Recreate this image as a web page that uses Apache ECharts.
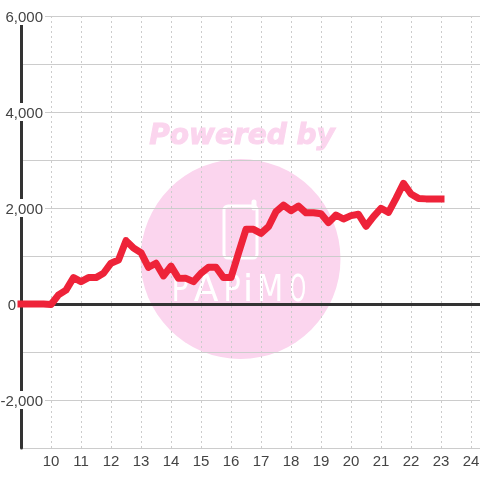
<!DOCTYPE html>
<html><head><meta charset="utf-8">
<style>html,body{margin:0;padding:0;background:#fff}#c{width:480px;height:480px}</style>
<script src="https://cdn.jsdelivr.net/npm/echarts@6/dist/echarts.min.js"></script>
</head><body><div id="c"></div>
<script>
const hours = [9,9.25,9.5,9.75,10,10.25,10.5,10.75,11,11.25,11.5,11.75,12,12.25,12.5,12.75,13,13.25,13.5,13.75,14,14.25,14.5,14.75,15,15.25,15.5,15.75,16,16.25,16.5,16.75,17,17.25,17.5,17.75,18,18.25,18.5,18.75,19,19.25,19.5,19.75,20,20.25,20.5,20.75,21,21.25,21.5,21.75,22,22.25,22.5,22.75,23];
const values = [0,0,0,0,-10,190,290,550,465,550,550,640,850,915,1320,1165,1070,765,850,585,790,535,535,465,640,765,765,550,550,1060,1555,1555,1470,1610,1925,2060,1945,2040,1900,1900,1880,1695,1855,1770,1840,1870,1620,1820,1995,1910,2200,2515,2290,2200,2190,2190,2190];
const shownYTicks = [-2000,0,2000,4000,6000];
const logoLetters = ["P","A","P","i","M","O"];
const logoX = [180,206,232,248,270,298];
const logoScale = [0.75,0.95,0.75,1,0.8,0.55];

const font = '"Liberation Sans", Arial, sans-serif';
const pink = '#fbd5ee';
const chart = echarts.init(document.getElementById('c'), null, {renderer:'canvas'});
chart.setOption({
  animation:false,
  grid:{left:21,right:0,top:16,bottom:32,outerBoundsMode:'none'},
  graphic:[
    {type:'circle',z:-10,shape:{cx:240.5,cy:259,r:100},style:{fill:pink}},
    {type:'text',z:-10,style:{text:'Powered by',x:242,y:137,align:'center',verticalAlign:'middle',font:'italic bold 28px "DejaVu Sans"',fill:pink,stroke:pink,lineWidth:1}},
    {type:'rect',z:-9,shape:{x:224,y:206,width:33,height:52,r:4},style:{fill:'none',stroke:'#fff',lineWidth:3}},
    {type:'line',z:-9,shape:{x1:254,y1:202,x2:254,y2:208},style:{stroke:'#fff',lineWidth:5,lineCap:'round'}},
    ...logoLetters.map((t,i)=>({type:'text',z:-9,x:logoX[i],y:291,scaleX:logoScale[i],style:{text:t,x:0,y:0,align:'center',verticalAlign:'middle',font:'38px "DejaVu Sans"',fill:'#fff'}}))
  ],
  xAxis:[
    {type:'value',min:9,max:24.3,interval:1,position:'bottom',
     axisLine:{show:false,onZero:false},axisTick:{show:false},
     axisLabel:{show:true,color:'#444',fontFamily:font,fontSize:15,margin:6,showMaxLabel:false,
       formatter:v=>(Number.isInteger(v)&&v>9)?String(v):''},
     splitLine:{show:true,lineStyle:{color:'#ccc',type:[2,3],width:1}}},
    {type:'value',min:9,max:24.3,interval:1,position:'top',
     axisLine:{show:true,onZero:true,lineStyle:{color:'#333',width:3}},axisTick:{show:false},
     axisLabel:{show:false},splitLine:{show:false}}
  ],
  yAxis:{type:'value',min:-3000,max:6000,interval:1000,
    axisLine:{show:true,onZero:false,lineStyle:{color:'#333',width:3}},axisTick:{show:false},
    axisLabel:{inside:true,margin:24,align:'right',color:'#444',fontFamily:font,fontSize:15,
      formatter:v=>{
        if(!shownYTicks.includes(v)) return '';
        return v===0 ? '{z|0}' : '{a|'+v.toLocaleString('en-US')+'}';
      },
      rich:{
        a:{fontFamily:font,fontSize:15,color:'#444',lineHeight:10,backgroundColor:'#fff',padding:[3,2,0,2]},
        z:{fontFamily:font,fontSize:15,color:'#444',lineHeight:10,padding:[3,29,0,0]}
      }},
    splitLine:{show:true,lineStyle:{color:'#ccc',width:1}}},
  series:[{type:'line',xAxisIndex:0,yAxisIndex:0,showSymbol:false,symbol:'none',
    data:hours.map((h,i)=>[h,values[i]]),
    lineStyle:{color:'#ee2339',width:7,cap:'square',join:'round'}}]
});
</script></body></html>
